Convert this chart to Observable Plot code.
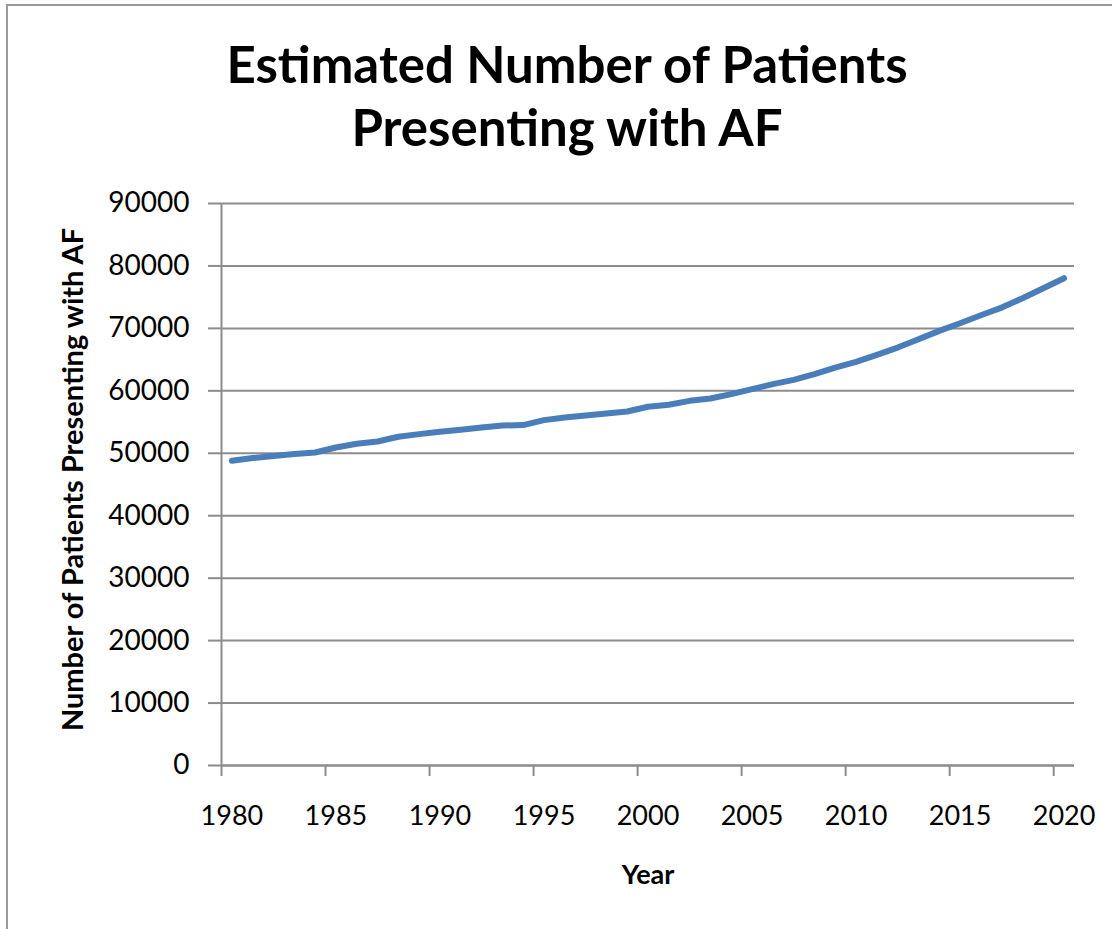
<!DOCTYPE html>
<html>
<head>
<meta charset="utf-8">
<script src="https://cdn.jsdelivr.net/npm/d3@7"></script>
<script src="https://cdn.jsdelivr.net/npm/@observablehq/plot@0.6"></script>
<style>
  html, body { margin: 0; padding: 0; background: #fff; overflow: hidden; }
  #frame { position: absolute; left: 6px; top: 4px; width: 2000px; height: 2000px;
           border-top: 2px solid #9a9a9a; border-left: 2px solid #9a9a9a; box-sizing: border-box; }
  #title { position: absolute; top: 32px; left: 0; width: 1134px; text-align: center;
           font-family: Lato, "Noto Sans", sans-serif; font-weight: bold; font-size: 51px;
           line-height: 63px; color: #000; white-space: nowrap; }
  #chart { position: absolute; left: 0; top: 0; }
</style>
</head>
<body>
<div id="frame"></div>
<div id="chart"></div>
<div id="title">Estimated Number of Patients<br>Presenting with AF</div>
<script>
const years = [1980, 1981, 1982, 1983, 1984, 1985, 1986, 1987, 1988, 1989,
               1990, 1991, 1992, 1993, 1994, 1995, 1996, 1997, 1998, 1999,
               2000, 2001, 2002, 2003, 2004, 2005, 2006, 2007, 2008, 2009,
               2010, 2011, 2012, 2013, 2014, 2015, 2016, 2017, 2018, 2019, 2020];
const patients = [48800, 49230, 49550, 49870, 50130, 50930, 51520, 51890, 52640, 53070,
                  53450, 53760, 54130, 54450, 54510, 55310, 55730, 56050, 56370, 56690,
                  57450, 57760, 58400, 58770, 59470, 60270, 61070, 61760, 62670, 63730,
                  64650, 65760, 66930, 68270, 69600, 70830, 72110, 73330, 74830, 76430, 78030];
const xTickLabels = [1980, 1985, 1990, 1995, 2000, 2005, 2010, 2015, 2020];
const xTickBounds = [1979.5, 1984.5, 1989.5, 1994.5, 1999.5, 2004.5, 2009.5, 2014.5, 2019.5];
const yTicks = [0, 10000, 20000, 30000, 40000, 50000, 60000, 70000, 80000, 90000];
const xTitle = "Year";
const yTitle = "Number of Patients Presenting with AF";

const data = years.map((y, i) => ({year: y, value: patients[i]}));
const gridColor = "#8c8c8c";
const fontFamily = "Lato, 'Noto Sans', sans-serif";

const chart = Plot.plot({
  width: 1112,
  height: 929,
  marginLeft: 221,
  marginRight: 38,
  marginTop: 203,
  marginBottom: 164,
  style: {fontFamily, color: "#000", background: "transparent", overflow: "visible"},
  x: {type: "linear", domain: [1979.5, 2020.5]},
  y: {domain: [0, 90000]},
  marks: [
    Plot.gridY(yTicks, {stroke: gridColor, strokeOpacity: 1, strokeWidth: 2}),
    Plot.axisY(yTicks, {tickSize: 13, tickPadding: 19, tickFormat: d3.format("d"),
                        stroke: gridColor, strokeWidth: 2, fontSize: 28, label: null}),
    Plot.axisX(xTickBounds, {tickSize: 11, tickFormat: () => "", stroke: gridColor,
                             strokeWidth: 2, label: null}),
    Plot.axisX(xTickLabels, {tickSize: 0, tickPadding: 40, fontSize: 27, label: null,
                             tickFormat: d3.format("d")}),
    Plot.ruleX([1979.5], {stroke: gridColor, strokeWidth: 2}),
    Plot.ruleY([0], {stroke: gridColor, strokeWidth: 2}),
    Plot.line(data, {x: "year", y: "value", stroke: "#4a7ebb", strokeWidth: 6,
                     strokeLinecap: "round", strokeLinejoin: "round"}),
    Plot.text([xTitle], {frameAnchor: "bottom", dy: 118, fontSize: 27, fontWeight: "bold"}),
    Plot.text([yTitle], {frameAnchor: "left", textAnchor: "middle", dx: -148, dy: -5,
                         rotate: -90, fontSize: 29, fontWeight: "bold"})
  ]
});
document.getElementById("chart").appendChild(chart);
</script>
</body>
</html>
